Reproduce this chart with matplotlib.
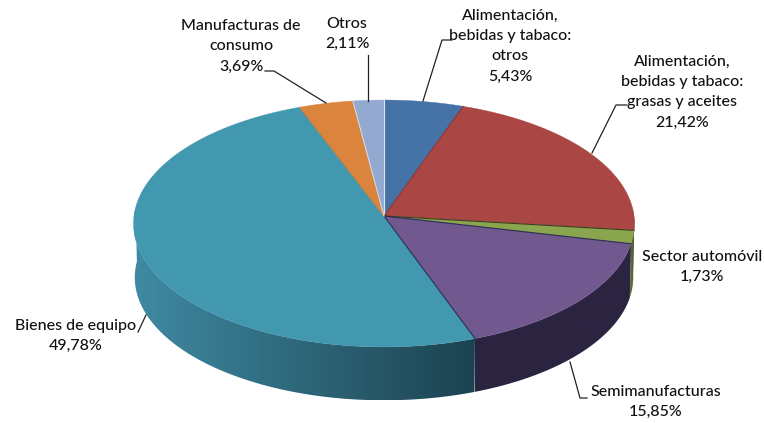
import numpy as np
import matplotlib
matplotlib.use('Agg')
import matplotlib.pyplot as plt
from matplotlib.colors import LinearSegmentedColormap
from matplotlib.patches import Polygon

# datos del grafico
labels = ['Alimentación,\nbebidas y tabaco:\notros',
          'Alimentación,\nbebidas y tabaco:\ngrasas y aceites',
          'Sector automóvil',
          'Semimanufacturas',
          'Bienes de equipo',
          'Manufacturas de\nconsumo',
          'Otros']
shares = [5.43, 21.42, 1.73, 15.85, 49.78, 3.69, 2.11]
colors = ['#4572A7', '#AA4643', '#89A54E', '#71588F', '#4198AF', '#DB843D', '#93A9CF']
wall_left = ['#2f4f75', '#76302e', '#5f7336', '#2b2440', '#3f8aa2', '#995c2a', '#66768f']
wall_right = ['#2f4f75', '#76302e', '#46552a', '#2b2440', '#1c4250', '#995c2a', '#66768f']

# posicion de los textos y lineas guia (pixeles de la imagen)
label_pos = [(510, 46), (682, 92), (702, 267), (656, 402), (76, 336), (241, 46), (347, 34)]
leaders = [[(452, 40), (442, 40), (423, 101)],
           [(627, 105), (616, 105), (592, 153)],
           None,
           [(587, 398), (580, 398), (570, 362)],
           [(138, 332), (146, 315)],
           [(265, 71), (274, 71), (326, 103)],
           [(367.5, 55), (367.5, 101)]]

# perspectiva de la tarta
cx, cy = 384, 216
rx, ry = 250, 123
k = 0.0607
depth = 54
shrink = 0.995


def project(angle, r=1.0, scale=1.0, dy=0.0):
    # angulo en grados, horario desde arriba
    t = np.radians(angle)
    x = r * np.sin(t)
    y = r * np.cos(t)
    w = 1 + k * y
    return cx + scale * rx * x / w, cy + dy - scale * ry * y / w


fig = plt.figure(figsize=(7.64, 4.23), dpi=100)
ax = fig.add_axes([0, 0, 1, 1])
ax.axis('off')

edges = np.concatenate([[0], np.cumsum(shares)]) / sum(shares) * 360

# pared lateral: degradado horizontal recortado con la forma del sector
for i in range(len(shares)):
    a0, a1 = max(edges[i], 86), min(edges[i + 1], 274)
    if a1 <= a0:
        continue
    steps = np.linspace(a0, a1, 200)
    xt, yt = project(steps)
    xb, yb = project(steps, scale=shrink, dy=depth)
    xs = np.r_[xt, xb[::-1]]
    ys = np.r_[yt, yb[::-1]]
    patch = Polygon(np.c_[xs, ys], transform=ax.transData, fc='none', ec='none')
    ax.add_patch(patch)
    cmap = LinearSegmentedColormap.from_list('w', [wall_left[i], wall_right[i]])
    im = ax.imshow(np.linspace(0, 1, 256)[None, :], cmap=cmap, aspect='auto', zorder=2,
                   extent=[xs.min(), xs.max(), ys.max(), ys.min()])
    im.set_clip_path(patch)

ax.set_xlim(0, 764)
ax.set_ylim(423, 0)

# cara superior
for i in range(len(shares)):
    arc = np.linspace(edges[i], edges[i + 1], 200)
    xs, ys = project(arc)
    ax.fill(np.r_[cx, xs], np.r_[cy, ys], color=colors[i], lw=0.3, zorder=3)

# separadores
sep_colors = ['#dfe6f2', '#8a3a38', '#3a3f22', '#2c2c55', '#2c2c55', '#c9803f', '#cfd8e6']
for i in range(len(shares)):
    x, y = project(edges[i])
    ax.plot([cx, x], [cy, y], color=sep_colors[i], lw=0.8, zorder=4)

# etiquetas
font = ['Lato', 'DejaVu Sans']
for i in range(len(shares)):
    txt = labels[i] + '\n' + f'{shares[i]:.2f}'.replace('.', ',') + '%'
    ax.text(label_pos[i][0], label_pos[i][1], txt, ha='center', va='center',
            fontsize=11.5, family=font, weight='medium', color='#111111',
            linespacing=1.58, zorder=6)
    if leaders[i] is not None:
        lx, ly = zip(*leaders[i])
        ax.plot(lx, ly, color='#222222', lw=0.9, zorder=5)

fig.savefig('out.png', dpi=100, facecolor='white')
